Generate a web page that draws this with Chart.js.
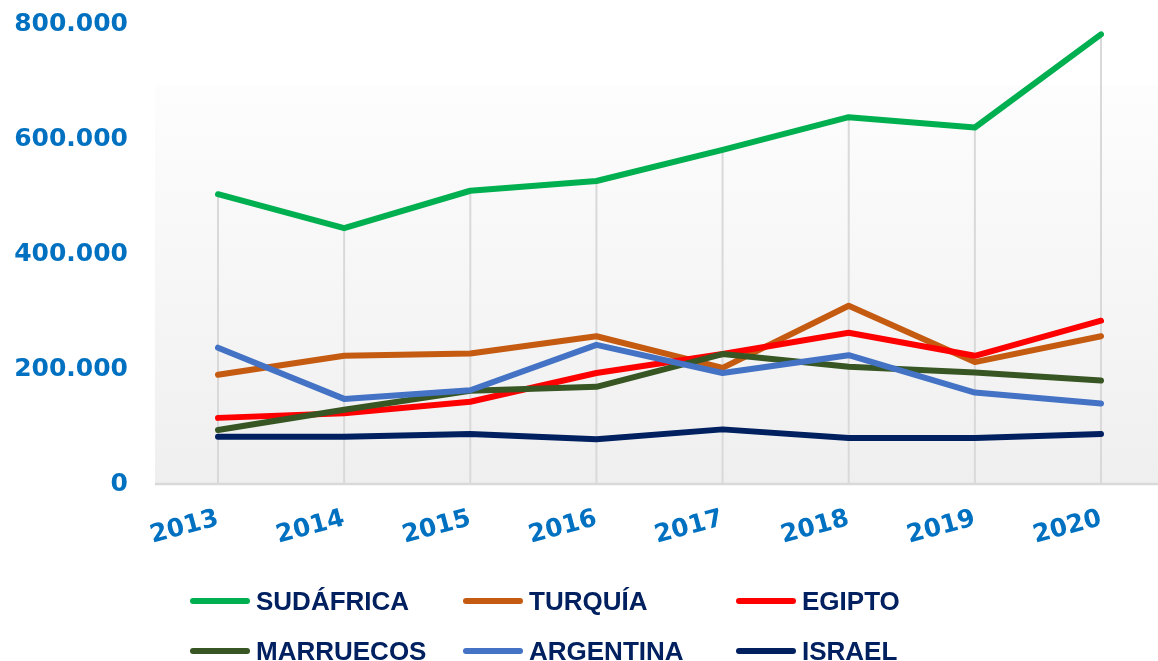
<!DOCTYPE html>
<html>
<head>
<meta charset="utf-8">
<script src="https://cdn.jsdelivr.net/npm/chart.js@4"></script>
<style>
  html, body { margin: 0; padding: 0; background: #fff; }
  #wrap { position: relative; width: 1158px; height: 661px; }
  #legend {
    position: absolute; left: 190px; top: 586px;
    display: grid; grid-template-columns: 273px 273px 273px; row-gap: 20px;
    font-family: "Liberation Sans", Arial, sans-serif; font-weight: bold;
    font-size: 26px; color: #002060;
  }
  .item { display: flex; align-items: center; height: 30px; }
  .swatch { width: 60px; height: 6px; border-radius: 3px; margin-right: 6px; }
</style>
</head>
<body>
<div id="wrap">
  <canvas id="chart"></canvas>
  <div id="legend"></div>
</div>
<script>
// Data
const years = ["2013", "2014", "2015", "2016", "2017", "2018", "2019", "2020"];
const sudafrica = [504000, 445000, 510000, 527000, 581000, 638000, 620000, 782000];
const turquia   = [190000, 223000, 227000, 257000, 202000, 310000, 212000, 257000];
const egipto    = [115000, 123000, 143000, 193000, 226000, 263000, 223000, 284000];
const marruecos = [94000, 129000, 162000, 169000, 226000, 204000, 194000, 180000];
const argentina = [237000, 148000, 163000, 242000, 193000, 224000, 159000, 140000];
const israel    = [82000, 82000, 87000, 78000, 95000, 80000, 80000, 87000];
const yTicks = [0, 200000, 400000, 600000, 800000];

const series = [
  { label: "SUDÁFRICA", data: sudafrica, color: "#00b050" },
  { label: "TURQUÍA", data: turquia, color: "#c55a11" },
  { label: "EGIPTO", data: egipto, color: "#ff0000" },
  { label: "MARRUECOS", data: marruecos, color: "#375623" },
  { label: "ARGENTINA", data: argentina, color: "#4472c4" },
  { label: "ISRAEL", data: israel, color: "#002060" }
];

const axisBlue = "#0070c0";
const tickFont = { family: "DejaVu Sans", weight: "bold", size: 25 };

function fmt(v) {
  return String(v).replace(/\B(?=(\d{3})+(?!\d))/g, ".");
}

// grey plot background, axis line and drop lines
const backdrop = {
  id: "backdrop",
  beforeDatasetsDraw(chart) {
    const ctx = chart.ctx;
    const xs = chart.scales.x, ys = chart.scales.y;
    const step = xs.getPixelForValue(1) - xs.getPixelForValue(0);
    const left = xs.getPixelForValue(0) - step / 2;
    const y0 = ys.getPixelForValue(0);
    const top = 85;
    ctx.save();
    const g = ctx.createLinearGradient(0, top, 0, y0);
    g.addColorStop(0, "#fdfdfd");
    g.addColorStop(1, "#efefef");
    ctx.fillStyle = g;
    ctx.fillRect(left, top, chart.width - left, y0 - top);

    ctx.strokeStyle = "#d9d9d9";
    ctx.lineWidth = 2;
    years.forEach((_, i) => {
      const max = Math.max(...series.map(s => s.data[i]));
      const x = xs.getPixelForValue(i);
      ctx.beginPath();
      ctx.moveTo(x, ys.getPixelForValue(max));
      ctx.lineTo(x, y0);
      ctx.stroke();
    });
    ctx.lineWidth = 2.5;
    ctx.beginPath();
    ctx.moveTo(left, y0);
    ctx.lineTo(chart.width, y0);
    ctx.stroke();
    ctx.restore();
  }
};

new Chart(document.getElementById("chart"), {
  type: "line",
  data: {
    labels: years,
    datasets: series.map((s, i) => ({
      label: s.label,
      data: s.data,
      borderColor: s.color,
      backgroundColor: s.color,
      borderWidth: 6,
      pointRadius: 0,
      tension: 0,
      borderCapStyle: "round",
      borderJoinStyle: "round",
      order: series.length - i
    }))
  },
  options: {
    responsive: true,
    maintainAspectRatio: false,
    animation: false,
    layout: { padding: { top: 24, right: 57, bottom: 0, left: 0 } },
    plugins: { legend: { display: false }, tooltip: { enabled: false } },
    scales: {
      x: {
        offset: false,
        grid: { display: false },
        border: { display: false },
        ticks: {
          color: axisBlue, font: tickFont, autoSkip: false,
          minRotation: 15, maxRotation: 15, padding: 12
        },
        afterFit(scale) { scale.height = 177; }
      },
      y: {
        min: 0, max: 800000,
        grid: { display: false, drawTicks: false },
        border: { display: false },
        afterBuildTicks(scale) { scale.ticks = yTicks.map(v => ({ value: v })); },
        ticks: { color: axisBlue, font: tickFont, padding: 90, callback: v => fmt(v) },
        afterFit(scale) {
          scale.width = 218;
          scale.paddingTop = 0;
          scale.paddingBottom = 0;
        }
      }
    }
  },
  plugins: [backdrop]
});

// legend in three columns
const legend = document.getElementById("legend");
series.forEach(s => {
  const item = document.createElement("div");
  item.className = "item";
  const sw = document.createElement("span");
  sw.className = "swatch";
  sw.style.background = s.color;
  item.appendChild(sw);
  item.appendChild(document.createTextNode(s.label));
  legend.appendChild(item);
});
</script>
</body>
</html>
